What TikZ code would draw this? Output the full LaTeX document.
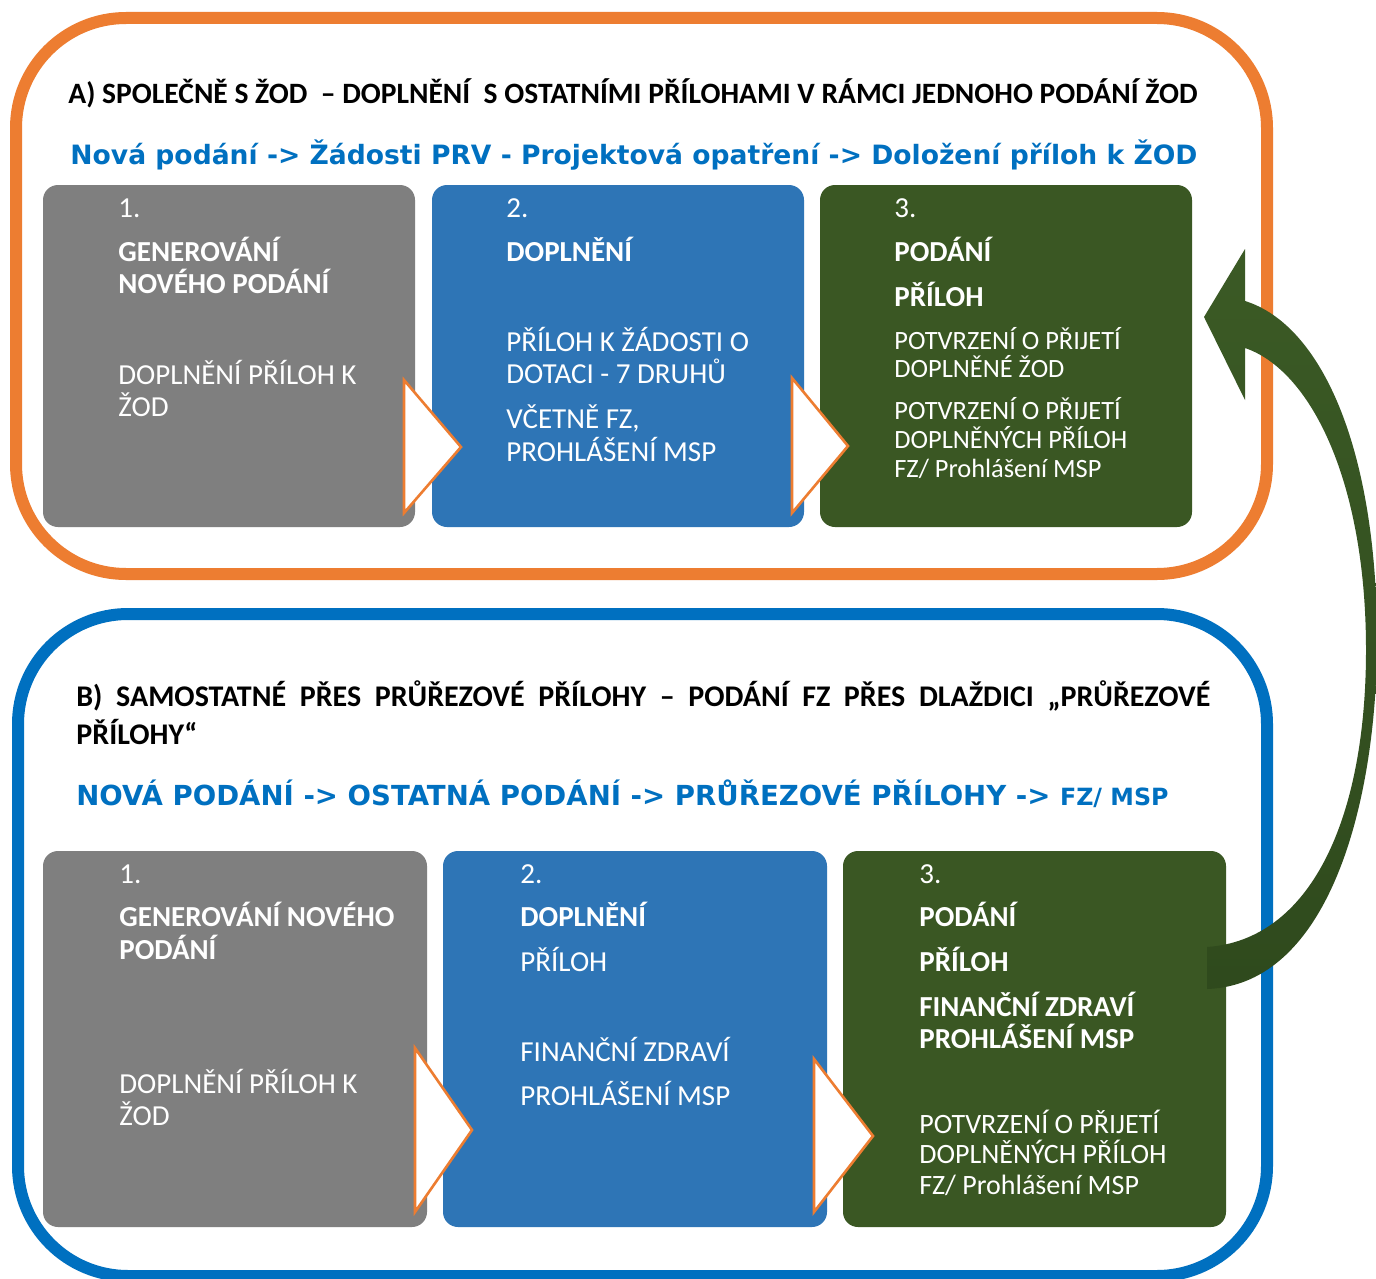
\documentclass[tikz,border=0pt]{standalone}
\usepackage{fontspec}
\setmainfont{Carlito}
\newfontfamily\verd{DejaVu Sans}
\usepackage{graphicx}
\definecolor{orng}{HTML}{ED7D31}
\definecolor{frblue}{HTML}{0070C0}
\definecolor{boxgray}{HTML}{7F7F7F}
\definecolor{boxblue}{HTML}{2E75B6}
\definecolor{boxgreen}{HTML}{3A5723}
\definecolor{arrtop}{HTML}{3B5A25}
\definecolor{arrbot}{HTML}{2F4A1D}
\tikzset{
 frame/.style={line width=6pt, rounded corners=55pt},
 tile/.style={rounded corners=7.5pt},
 tri/.style={fill=white, draw=orng, line width=1.3pt, line join=miter},
 wt/.style={text=white, inner sep=0pt, anchor=base west, font=\fontsize{14.5}{16}\selectfont},
 wb/.style={wt, font=\fontsize{14.5}{16}\selectfont\bfseries},
 ws/.style={wt, font=\fontsize{13.2}{15}\selectfont},
 wm/.style={wt, font=\fontsize{14}{15}\selectfont},
 ttl/.style={inner sep=0pt, anchor=base west, font=\bfseries},
}
\begin{document}
\begin{tikzpicture}[x=0.5pt,y=-0.5pt]
\useasboundingbox (0,0) rectangle (1376,1279);
\fill[white] (0,0) rectangle (1376,1279);
% frames
\draw[frame, draw=orng] (16,18) rectangle (1267,574);
\draw[frame, draw=frblue] (18,614) rectangle (1267,1276);
% tiles A
\fill[tile, boxgray] (43,185) rectangle (415,527);
\fill[tile, boxblue] (432,185) rectangle (804,527);
\fill[tile, boxgreen] (820,185) rectangle (1192,527);
% tiles B
\fill[tile, boxgray] (43,851) rectangle (427,1227);
\fill[tile, boxblue] (443,851) rectangle (827,1227);
\fill[tile, boxgreen] (843,851) rectangle (1226,1227);
% triangles
\draw[tri] (404,380) -- (461,447) -- (404,513) -- cycle;
\draw[tri] (792,378) -- (848,446) -- (792,513) -- cycle;
\draw[tri] (415,1048) -- (472,1130) -- (415,1212) -- cycle;
\draw[tri] (814,1059) -- (873,1136) -- (814,1212) -- cycle;
% curved arrow
\shade[top color=arrtop, bottom color=arrbot]
  (1207,947) .. controls (1310,940) and (1366,820) .. (1366,650)
  .. controls (1366,480) and (1310,370) .. (1245,348)
  -- (1245,400) -- (1204,317) -- (1245,249) -- (1245,301)
  .. controls (1322,325) and (1377,450) .. (1377,640)
  .. controls (1377,800) and (1330,985) .. (1207,989) -- cycle;
% titles
\node[ttl] (tA) at (68,104) {\resizebox{564.5pt}{!}{A) SPOLEČNĚ S ŽOD\ \ – DOPLNĚNÍ\ \ S OSTATNÍMI PŘÍLOHAMI V RÁMCI JEDNOHO PODÁNÍ ŽOD}};
\node[ttl, text=frblue] (bA) at (70,164) {\resizebox{563.5pt}{!}{\verd\bfseries Nová podání -> Žádosti PRV - Projektová opatření -> Doložení příloh k ŽOD}};
\node[ttl, font=\fontsize{15}{17}\selectfont\bfseries] (tB1) at (76,706) {\makebox[567pt][s]{B) SAMOSTATNÉ PŘES PRŮŘEZOVÉ PŘÍLOHY – PODÁNÍ FZ PŘES DLAŽDICI „PRŮŘEZOVÉ}};
\node[ttl, font=\fontsize{15}{17}\selectfont\bfseries] (tB2) at (76,744) {PŘÍLOHY“};
\node[ttl, text=frblue] (bB) at (76,805) {\resizebox{546pt}{!}{\verd\bfseries NOVÁ PODÁNÍ -> OSTATNÁ PODÁNÍ -> PRŮŘEZOVÉ PŘÍLOHY -> {\fontsize{8.6}{10}\selectfont FZ/ MSP}}};
% A1
\node[wt] (a1n) at (118,217) {1.};
\node[wb] (a1b1) at (118,261) {GENEROVÁNÍ};
\node[wb] (a1b2) at (118,293) {NOVÉHO PODÁNÍ};
\node[wt] (a1t1) at (118,384) {DOPLNĚNÍ PŘÍLOH K};
\node[wt] (a1t2) at (118,416) {ŽOD};
% A2
\node[wt] (a2n) at (506,217) {2.};
\node[wb] (a2b1) at (506,261) {DOPLNĚNÍ};
\node[wt] (a2t1) at (506,351) {PŘÍLOH K ŽÁDOSTI O};
\node[wt] (a2t2) at (506,383) {DOTACI - 7 DRUHŮ};
\node[wt] (a2t3) at (506,428) {VČETNĚ FZ,};
\node[wt] (a2t4) at (506,461) {PROHLÁŠENÍ MSP};
% A3
\node[wt] (a3n) at (894,217) {3.};
\node[wb] (a3b1) at (894,261) {PODÁNÍ};
\node[wb] (a3b2) at (894,306) {PŘÍLOH};
\node[ws] (a3t1) at (894,349) {POTVRZENÍ O PŘIJETÍ};
\node[ws] (a3t2) at (894,377) {DOPLNĚNÉ ŽOD};
\node[ws] (a3t3) at (894,419) {POTVRZENÍ O PŘIJETÍ};
\node[ws] (a3t4) at (894,448) {DOPLNĚNÝCH PŘÍLOH};
\node[ws] (a3t5) at (894,477) {FZ/ Prohlášení MSP};
% B1
\node[wt] (b1n) at (119,883) {1.};
\node[wb] (b1b1) at (119,926) {GENEROVÁNÍ NOVÉHO};
\node[wb] (b1b2) at (119,959) {PODÁNÍ};
\node[wt] (b1t1) at (119,1093) {DOPLNĚNÍ PŘÍLOH K};
\node[wt] (b1t2) at (119,1125) {ŽOD};
% B2
\node[wt] (b2n) at (520,883) {2.};
\node[wb] (b2b1) at (520,926) {DOPLNĚNÍ};
\node[wt] (b2t1) at (520,971) {PŘÍLOH};
\node[wt] (b2t2) at (520,1061) {FINANČNÍ ZDRAVÍ};
\node[wt] (b2t3) at (520,1105) {PROHLÁŠENÍ MSP};
% B3
\node[wt] (b3n) at (919,883) {3.};
\node[wb] (b3b1) at (919,926) {PODÁNÍ};
\node[wb] (b3b2) at (919,971) {PŘÍLOH};
\node[wb] (b3b3) at (919,1016) {FINANČNÍ ZDRAVÍ};
\node[wb] (b3b4) at (919,1048) {PROHLÁŠENÍ MSP};
\node[wm] (b3t1) at (919,1133) {POTVRZENÍ O PŘIJETÍ};
\node[wm] (b3t2) at (919,1163) {DOPLNĚNÝCH PŘÍLOH};
\node[wm] (b3t3) at (919,1194) {FZ/ Prohlášení MSP};
\end{tikzpicture}
\end{document}
